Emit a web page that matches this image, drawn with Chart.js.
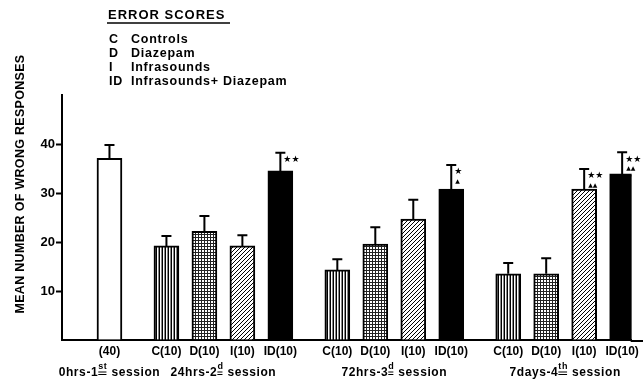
<!DOCTYPE html>
<html><head><meta charset="utf-8">
<script src="https://cdn.jsdelivr.net/npm/chart.js@4"></script>
<style>html,body{margin:0;padding:0;background:#fff}</style>
</head><body>
<canvas id="c" width="643" height="381"></canvas>
<script>
// ---------- data ----------
const sessionPrefix = ["0hrs-1", "24hrs-2", "72hrs-3", "7days-4"];
const sessionOrdinal = ["st", "d", "d", "th"];
const sessionWord = "session";
const groupCodes = ["C", "D", "I", "ID"];
const groupSizes = ["(10)", "(10)", "(10)", "(10)"];
const baselineLabel = "(40)";
const baselineMean = [37.1];
const baselineUpper = [39.8];
const controlsMean = [19.2, 14.3, 13.5];
const controlsUpper = [21.2, 16.5, 15.7];
const diazepamMean = [22.2, 19.6, 13.5];
const diazepamUpper = [25.3, 23.0, 16.7];
const infrasoundsMean = [19.2, 24.7, 30.8];
const infrasoundsUpper = [21.4, 28.6, 34.9];
const comboMean = [34.5, 30.8, 33.9];
const comboUpper = [38.2, 35.7, 38.3];
const infrasoundsStars = [0, 0, 2];
const infrasoundsTriangles = [0, 0, 2];
const comboStars = [2, 1, 2];
const comboTriangles = [0, 1, 2];
const yTicks = [10, 20, 30, 40];
const legendTitle = "ERROR SCORES";
const legendCodes = ["C", "D", "I", "ID"];
const legendNames = ["Controls", "Diazepam", "Infrasounds", "Infrasounds+ Diazepam"];
const yTitle = "MEAN NUMBER OF WRONG RESPONSES";

// ---------- patterns ----------
function pattern(kind) {
  const c = document.createElement('canvas');
  const g = c.getContext('2d');
  if (kind === 'open') return '#ffffff';
  if (kind === 'solid') return '#000000';
  if (kind === 'vstripe') {
    c.width = 3; c.height = 3;
    g.fillStyle = '#fff'; g.fillRect(0, 0, 3, 3);
    g.fillStyle = '#000'; g.fillRect(0, 0, 1, 3);
    g.fillStyle = '#888'; g.fillRect(2, 0, 1, 3);
  } else if (kind === 'dots') {
    c.width = 3; c.height = 3;
    g.fillStyle = '#fff'; g.fillRect(0, 0, 3, 3);
    g.fillStyle = '#222'; g.fillRect(0, 0, 3, 1); g.fillRect(0, 0, 1, 3);
  } else if (kind === 'diag') {
    c.width = 4; c.height = 4;
    g.fillStyle = '#fff'; g.fillRect(0, 0, 4, 4);
    g.fillStyle = '#000';
    g.fillRect(0, 3, 1, 1); g.fillRect(1, 2, 1, 1); g.fillRect(2, 1, 1, 1); g.fillRect(3, 0, 1, 1);
  }
  return g.createPattern(c, 'repeat');
}
const seriesKinds = ['vstripe', 'dots', 'diag', 'solid'];

// ---------- build category slots ----------
const labels = [], values = [], uppers = [], fills = [], stars = [], tris = [];
const sessionSpan = [];
function pad(n) { for (let k = 0; k < n; k++) { labels.push(''); values.push(null); uppers.push(null); fills.push('#fff'); stars.push(0); tris.push(0); } }
function bar(lab, v, u, fill, s, t) { labels.push(lab); values.push(v); uppers.push(u); fills.push(fill); stars.push(s); tris.push(t); return labels.length - 1; }
pad(2);
const b0 = bar(baselineLabel, baselineMean[0], baselineUpper[0], pattern('open'), 0, 0);
sessionSpan.push([b0, b0]);
const seriesMean = [controlsMean, diazepamMean, infrasoundsMean, comboMean];
const seriesUpper = [controlsUpper, diazepamUpper, infrasoundsUpper, comboUpper];
const seriesStars = [[0,0,0],[0,0,0], infrasoundsStars, comboStars];
const seriesTris = [[0,0,0],[0,0,0], infrasoundsTriangles, comboTriangles];
for (let s = 0; s < 3; s++) {
  pad(2);
  let first = null, last = null;
  for (let g = 0; g < 4; g++) {
    if (g > 0) pad(1);
    const i = bar(groupCodes[g] + groupSizes[g], seriesMean[g][s], seriesUpper[g][s], pattern(seriesKinds[g]), seriesStars[g][s], seriesTris[g][s]);
    if (first === null) first = i; last = i;
  }
  sessionSpan.push([first, last]);
}

const FONT = "'Liberation Sans', Arial, sans-serif";

const overlay = {
  id: 'overlay',
  afterDatasetsDraw(chart) {
    const ctx = chart.ctx, y = chart.scales.y;
    const meta = chart.getDatasetMeta(0);
    ctx.save();
    ctx.strokeStyle = '#000'; ctx.fillStyle = '#000'; ctx.lineWidth = 2;
    meta.data.forEach((el, i) => {
      if (uppers[i] == null) return;
      const x = el.x, yt = el.y, ye = y.getPixelForValue(uppers[i]);
      ctx.beginPath();
      ctx.moveTo(x, yt); ctx.lineTo(x, ye);
      ctx.moveTo(x - 5, ye); ctx.lineTo(x + 5, ye);
      ctx.stroke();
      ctx.textBaseline = 'middle'; ctx.textAlign = 'left';
      if (stars[i]) { ctx.font = "9px 'DejaVu Sans'"; ctx.fillText('★'.repeat(stars[i]), x + 3, ye + 7); }
      if (tris[i]) { ctx.font = "6px 'DejaVu Sans'"; ctx.fillText('▲'.repeat(tris[i]), x + 4, ye + 16); }
    });
    ctx.restore();
  },
  afterDraw(chart) {
    const ctx = chart.ctx, ca = chart.chartArea, xs = chart.scales.x;
    ctx.save();
    ctx.fillStyle = '#000'; ctx.strokeStyle = '#000';
    // extend x axis line
    ctx.lineWidth = 2;
    ctx.beginPath(); ctx.moveTo(ca.right - 1, ca.bottom + 1); ctx.lineTo(643, ca.bottom + 1); ctx.stroke();
    // y title
    ctx.save();
    ctx.translate(21, 184); ctx.rotate(-Math.PI / 2);
    ctx.font = "bold 12.5px " + FONT; ctx.letterSpacing = '0.3px';
    ctx.textAlign = 'center'; ctx.textBaseline = 'middle';
    ctx.fillText(yTitle, 0, 0);
    ctx.restore();
    // legend
    ctx.textAlign = 'left'; ctx.textBaseline = 'middle';
    ctx.font = "bold 13px " + FONT; ctx.letterSpacing = '1px';
    ctx.fillText(legendTitle, 108, 15);
    ctx.lineWidth = 1.5;
    ctx.beginPath(); ctx.moveTo(107, 23); ctx.lineTo(230, 23); ctx.stroke();
    ctx.letterSpacing = '0.75px';
    const rows = [40, 54, 68, 82];
    legendCodes.forEach((c, k) => {
      ctx.font = "bold 12.5px " + FONT;
      ctx.fillText(c, 109, rows[k]);
      ctx.fillText(legendNames[k], 131, rows[k]);
    });
    ctx.letterSpacing = '0.6px';
    // session labels
    const ly = 372;
    sessionSpan.forEach((sp, k) => {
      const cx = xs.getPixelForValue((sp[0] + sp[1]) / 2);
      const big = "bold 12px " + FONT, small = "bold 9px " + FONT;
      ctx.font = big; const w1 = ctx.measureText(sessionPrefix[k]).width;
      const w3 = ctx.measureText(' ' + sessionWord).width;
      ctx.font = small; const w2 = ctx.measureText(sessionOrdinal[k]).width;
      let x0 = cx - (w1 + w2 + w3) / 2;
      ctx.textBaseline = 'alphabetic';
      ctx.font = big; ctx.fillText(sessionPrefix[k], x0, ly + 4);
      ctx.font = small; ctx.fillText(sessionOrdinal[k], x0 + w1, ly - 3);
      ctx.lineWidth = 1;
      ctx.beginPath();
      ctx.moveTo(x0 + w1, ly); ctx.lineTo(x0 + w1 + w2 - 1, ly);
      ctx.moveTo(x0 + w1, ly + 2.5); ctx.lineTo(x0 + w1 + w2 - 1, ly + 2.5);
      ctx.stroke();
      ctx.font = big; ctx.fillText(' ' + sessionWord, x0 + w1 + w2, ly + 4);
    });
    ctx.restore();
  }
};

new Chart(document.getElementById('c'), {
  type: 'bar',
  data: {
    labels: labels,
    datasets: [{
      data: values,
      backgroundColor: fills,
      borderColor: '#000',
      borderWidth: 2,
      borderSkipped: 'bottom',
      barThickness: 25
    }]
  },
  options: {
    responsive: false,
    animation: false,
    devicePixelRatio: 1,
    layout: { padding: { top: 95, right: 11, left: 0, bottom: 0 } },
    plugins: { legend: { display: false }, tooltip: { enabled: false } },
    scales: {
      x: {
        offset: true,
        grid: { display: false, drawTicks: false },
        border: { display: true, color: '#000', width: 2 },
        ticks: { autoSkip: false, maxRotation: 0, minRotation: 0, padding: 4, color: '#000', font: { family: FONT, size: 12, weight: 'bold' } },
        afterFit(s) { s.height = 41; }
      },
      y: {
        min: 0, max: 50,
        afterBuildTicks(s) { s.ticks = [0, ...yTicks, 50].map(v => ({ value: v })); },
        grid: { drawOnChartArea: false, drawTicks: true, tickLength: 6, tickWidth: 2,
                color: c => yTicks.includes(c.tick && c.tick.value) ? '#000' : 'rgba(0,0,0,0)' },
        border: { display: true, color: '#000', width: 2 },
        ticks: { padding: 1, color: '#000', font: { family: FONT, size: 13, weight: 'bold' },
                 callback: v => yTicks.includes(v) ? String(v) : '' },
        afterFit(s) { s.width = 62; }
      }
    }
  },
  plugins: [overlay]
});
</script>
</body></html>
